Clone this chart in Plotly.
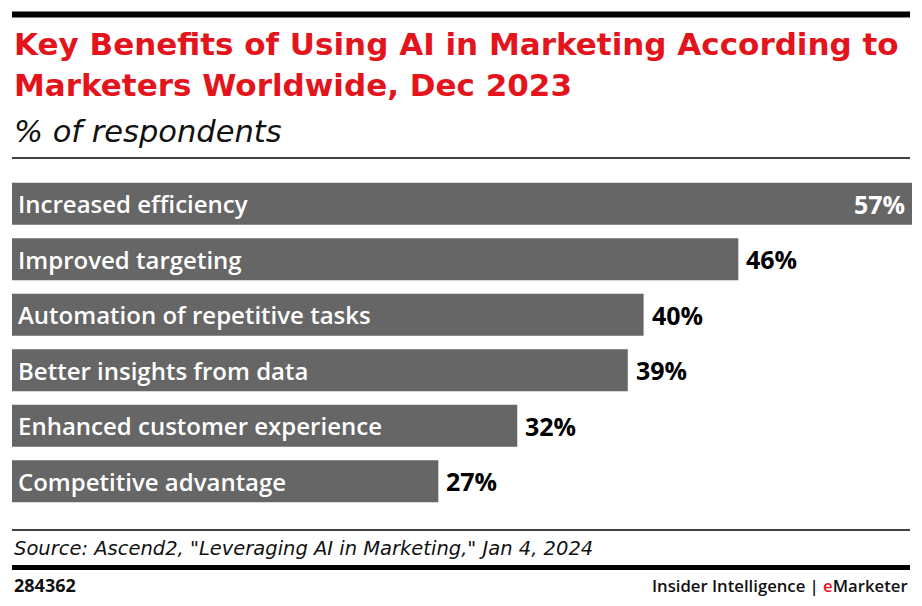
import plotly.graph_objects as go

categories = ["Increased efficiency", "Improved targeting", "Automation of repetitive tasks",
              "Better insights from data", "Enhanced customer experience", "Competitive advantage"]
values = [57, 46, 40, 39, 32, 27]

W, H = 922, 606
ML, MR, MT = 12, 10, 176
PH = 333
MB = H - MT - PH

def py(p):
    return (MT + PH - p) / PH

def px(p):
    return (p - ML) / (W - ML - MR)

BAR = "#666666"
RED = "#e3141c"
FONT = "Open Sans"
WIDE = "DejaVu Sans"

fig = go.Figure(go.Bar(
    x=values, y=categories, orientation="h",
    marker=dict(color=BAR, line=dict(width=0)),
    width=0.757,
    hoverinfo="skip",
))

annotations = []
vmax = max(values)
for c, v in zip(categories, values):
    annotations.append(dict(x=0, y=c, xref="x", yref="y", text=c, showarrow=False,
                            xanchor="left", yanchor="middle", xshift=4,
                            font=dict(family=FONT, size=24, color="#ffffff", weight=600)))
    inside = v == vmax
    annotations.append(dict(x=v, y=c, xref="x", yref="y", text=f"{v}%", showarrow=False,
                            xanchor="right" if inside else "left", yanchor="middle",
                            xshift=-5 if inside else 6,
                            font=dict(family=FONT, size=25, color="#ffffff" if inside else "#000000",
                                      weight=700)))

annotations += [
    dict(x=px(12), y=py(44), xref="paper", yref="paper", xanchor="left", yanchor="middle",
         text="Key Benefits of Using AI in Marketing According to", showarrow=False,
         font=dict(family=WIDE, size=31, color=RED, weight=700)),
    dict(x=px(12), y=py(85), xref="paper", yref="paper", xanchor="left", yanchor="middle",
         text="Marketers Worldwide, Dec 2023", showarrow=False,
         font=dict(family=WIDE, size=31, color=RED, weight=700)),
    dict(x=px(12), y=py(131), xref="paper", yref="paper", xanchor="left", yanchor="middle",
         text="<i>% of respondents</i>", showarrow=False,
         font=dict(family=WIDE, size=30.5, color="#111111", weight=400)),
    dict(x=px(12), y=py(548), xref="paper", yref="paper", xanchor="left", yanchor="middle",
         text="<i>Source: Ascend2, \"Leveraging AI in Marketing,\" Jan 4, 2024</i>", showarrow=False,
         font=dict(family=WIDE, size=19.5, color="#111111", weight=400)),
    dict(x=px(12), y=py(585), xref="paper", yref="paper", xanchor="left", yanchor="middle",
         text="284362", showarrow=False,
         font=dict(family=FONT, size=18, color="#111111", weight=700)),
    dict(x=px(910), y=py(585), xref="paper", yref="paper", xanchor="right", yanchor="middle",
         text="Insider Intelligence | <span style='color:#e3141c'>e</span>Marketer", showarrow=False,
         font=dict(family=FONT, size=16.7, color="#111111", weight=600)),
]

shapes = [
    dict(type="rect", xref="paper", yref="paper", x0=px(12), x1=px(910), y0=py(17.5), y1=py(11.5),
         fillcolor="#000000", line=dict(width=0)),
    dict(type="line", xref="paper", yref="paper", x0=px(12), x1=px(910), y0=py(158), y1=py(158),
         line=dict(color="#000000", width=1.5)),
    dict(type="line", xref="paper", yref="paper", x0=px(12), x1=px(910), y0=py(530), y1=py(530),
         line=dict(color="#000000", width=1.5)),
    dict(type="rect", xref="paper", yref="paper", x0=px(12), x1=px(910), y0=py(570), y1=py(565),
         fillcolor="#000000", line=dict(width=0)),
]

fig.update_layout(
    width=W, height=H,
    margin=dict(l=ML, r=MR, t=MT, b=MB, pad=0),
    paper_bgcolor="#ffffff", plot_bgcolor="#ffffff",
    showlegend=False,
    xaxis=dict(range=[0, 57], visible=False, fixedrange=True),
    yaxis=dict(range=[5.5, -0.5], visible=False, type="category", fixedrange=True),
    annotations=annotations,
    shapes=shapes,
)

fig.write_html("out.html", config={"displayModeBar": False},
               post_script="document.body.style.margin='0';document.body.style.padding='0';")
